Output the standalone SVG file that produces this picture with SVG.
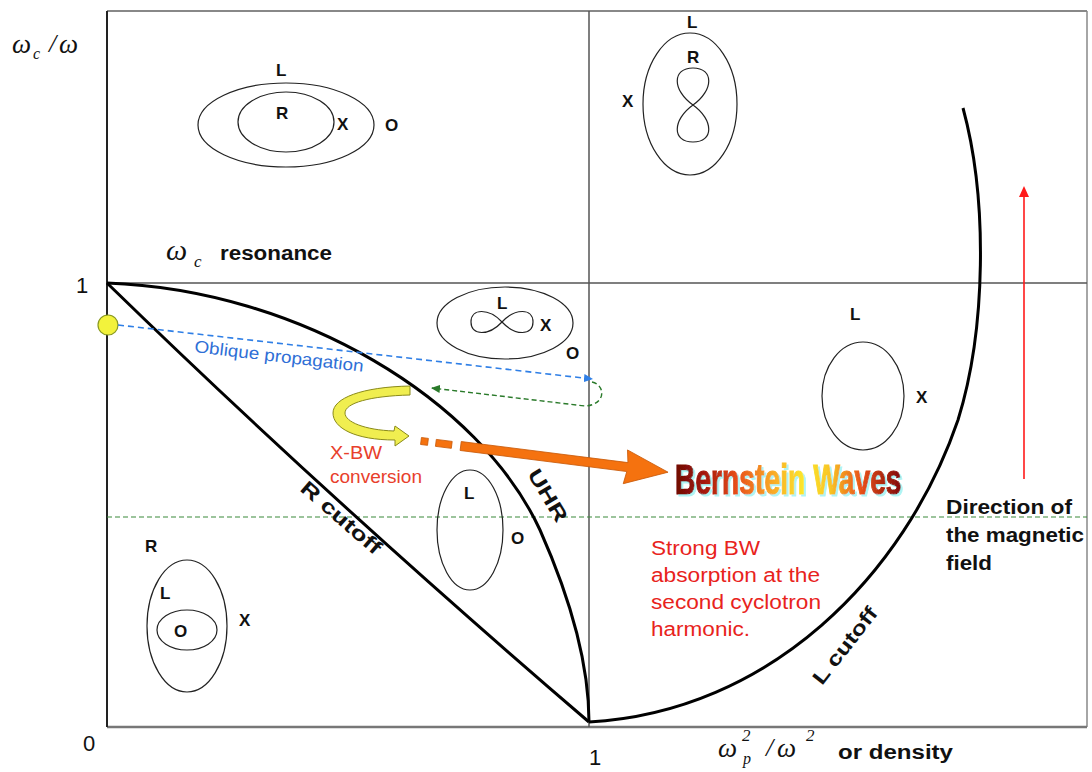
<svg xmlns="http://www.w3.org/2000/svg" width="1092" height="772" viewBox="0 0 1092 772">
<style>
.frame{fill:none;stroke:#555;stroke-width:1.5}
.axis{fill:none;stroke:#222;stroke-width:2}
.curve{fill:none;stroke:#000;stroke-width:3}
.pol{fill:none;stroke:#222;stroke-width:1.2}
.lbl{font-family:"Liberation Sans",Arial,sans-serif;font-weight:bold;font-size:17px;fill:#111}
.big{font-family:"Liberation Sans",Arial,sans-serif;font-weight:bold;font-size:20px;fill:#111}
.num{font-family:"Liberation Sans",Arial,sans-serif;font-size:22px;fill:#111}
.math{font-family:"Liberation Serif","Times New Roman",serif;font-style:italic;fill:#111}
.red{font-family:"Liberation Sans",Arial,sans-serif;font-size:20px;fill:#e8231c}
</style>
<defs>
<marker id="blueHead" markerWidth="10" markerHeight="10" refX="8" refY="5" orient="auto" markerUnits="userSpaceOnUse">
<path d="M0,1 L9,5 L0,9 Z" fill="#2f7fe6"/>
</marker>
<marker id="greenHead" markerWidth="10" markerHeight="10" refX="8" refY="5" orient="auto" markerUnits="userSpaceOnUse">
<path d="M0,1 L9,5 L0,9 Z" fill="#2a7a2a"/>
</marker>
<marker id="redHead" markerWidth="12" markerHeight="12" refX="6" refY="10" orient="0" markerUnits="userSpaceOnUse">
<path d="M1,11 L6,0 L11,11 Z" fill="#ff1a1a"/>
</marker>
<linearGradient id="bwGrad" x1="0" y1="0" x2="338" y2="0" gradientUnits="userSpaceOnUse">
<stop offset="0" stop-color="#6e0a04"/>
<stop offset="0.14" stop-color="#a81a0c"/>
<stop offset="0.28" stop-color="#e8501a"/>
<stop offset="0.42" stop-color="#f8a024"/>
<stop offset="0.58" stop-color="#fce82c"/>
<stop offset="0.7" stop-color="#f8c424"/>
<stop offset="0.84" stop-color="#e85018"/>
<stop offset="1" stop-color="#8a1008"/>
</linearGradient>
<filter id="glow" x="-5%" y="-20%" width="115%" height="150%">
<feOffset in="SourceAlpha" dx="2" dy="2" result="off"/>
<feFlood flood-color="#aef4f4"/>
<feComposite in2="off" operator="in" result="sh"/>
<feMerge><feMergeNode in="sh"/><feMergeNode in="SourceGraphic"/></feMerge>
</filter>
</defs>

<g id="frame">
<line x1="107" y1="11" x2="1087" y2="11" stroke="#888" stroke-width="2"/>
<line x1="1087" y1="11" x2="1087" y2="727" stroke="#888" stroke-width="1.5"/>
<line x1="107" y1="727" x2="1087" y2="727" stroke="#777" stroke-width="2.5"/>
<line x1="107" y1="11" x2="107" y2="727" class="axis"/>
<line x1="107" y1="283" x2="1087" y2="283" class="frame"/>
<line x1="589" y1="11" x2="589" y2="727" class="frame"/>
<line x1="107" y1="517" x2="1087" y2="517" stroke="#3a8a3a" stroke-width="1.2" stroke-dasharray="5,3"/>
</g>

<g id="axis-labels">
<text x="12" y="53" class="math" font-size="27">ω</text>
<text x="33" y="59" class="math" font-size="16">c</text>
<text x="49" y="52" class="math" font-size="26">/</text>
<text x="59" y="53" class="math" font-size="27">ω</text>
<text x="76" y="293" class="num">1</text>
<text x="83" y="751" class="num">0</text>
<text x="589" y="765" class="num">1</text>
<text x="718" y="757" class="math" font-size="27">ω</text>
<text x="743" y="764" class="math" font-size="16">p</text>
<text x="742" y="741" class="math" font-size="17">2</text>
<text x="766" y="756" class="math" font-size="26">/</text>
<text x="777" y="757" class="math" font-size="27">ω</text>
<text x="806" y="741" class="math" font-size="17">2</text>
<text x="838" y="759" class="big" textLength="115" lengthAdjust="spacingAndGlyphs">or density</text>
<text x="166" y="260" class="math" font-size="30">ω</text>
<text x="194" y="267" class="math" font-size="17">c</text>
<text x="220" y="260" class="big" textLength="112" lengthAdjust="spacingAndGlyphs">resonance</text>
</g>

<g id="curves">
<path id="r-cutoff" class="curve" d="M107,283 Q330,500 589,722"/>
<path id="uhr" class="curve" d="M107,283 C300,290 480,400 540,530 C580,620 589,680 589,722"/>
<path id="l-cutoff" class="curve" d="M589,722 C770,712 905,575 958,420 C986,330 988,200 963,108"/>
<text class="big" transform="translate(299,490) rotate(41)" font-size="21" textLength="100" lengthAdjust="spacingAndGlyphs">R cutoff</text>
<text class="big" transform="translate(527,474) rotate(59)" font-size="21" textLength="58" lengthAdjust="spacingAndGlyphs">UHR</text>
<text class="big" transform="translate(822,686) rotate(-52)" font-size="21" textLength="92" lengthAdjust="spacingAndGlyphs">L cutoff</text>
</g>

<g id="pol-top-left">
<ellipse cx="286" cy="125" rx="88" ry="42" class="pol"/>
<ellipse cx="286" cy="122" rx="48" ry="30" class="pol"/>
<text x="276" y="76" class="lbl">L</text>
<text x="276" y="119" class="lbl">R</text>
<text x="337" y="130" class="lbl">X</text>
<text x="385" y="131" class="lbl">O</text>
</g>

<g id="pol-top-right">
<ellipse cx="690" cy="104" rx="47" ry="71" class="pol"/>
<path class="pol" d="M693,105 C672,90 672,68 693,68 C714,68 714,90 693,105 C672,120 672,142 693,142 C714,142 714,120 693,105 Z"/>
<text x="687" y="28" class="lbl">L</text>
<text x="687" y="63" class="lbl">R</text>
<text x="622" y="107" class="lbl">X</text>
</g>

<g id="pol-middle">
<ellipse cx="505" cy="323" rx="68" ry="36" class="pol"/>
<path class="pol" d="M502,322 C515,308 533,308 533,322 C533,336 515,336 502,322 C489,308 471,308 471,322 C471,336 489,336 502,322 Z"/>
<text x="497" y="309" class="lbl">L</text>
<text x="540" y="331" class="lbl">X</text>
<text x="566" y="359" class="lbl">O</text>
</g>

<g id="pol-right">
<ellipse cx="863" cy="396" rx="41" ry="54" class="pol"/>
<text x="850" y="320" class="lbl">L</text>
<text x="916" y="403" class="lbl">X</text>
</g>

<g id="pol-bottom-middle">
<ellipse cx="470" cy="530" rx="33" ry="60" class="pol"/>
<text x="464" y="499" class="lbl">L</text>
<text x="511" y="544" class="lbl">O</text>
</g>

<g id="pol-bottom-left">
<ellipse cx="187" cy="626" rx="40" ry="66" class="pol"/>
<ellipse cx="187" cy="630" rx="30" ry="20" class="pol"/>
<text x="145" y="552" class="lbl">R</text>
<text x="160" y="599" class="lbl">L</text>
<text x="174" y="637" class="lbl">O</text>
<text x="239" y="626" class="lbl">X</text>
</g>

<g id="connectors">
<circle cx="108" cy="325" r="10" fill="#f2f23c" stroke="#8a9a20" stroke-width="1.2"/>
<line x1="118" y1="325" x2="592" y2="379" stroke="#2f7fe6" stroke-width="1.6" stroke-dasharray="6,4" marker-end="url(#blueHead)"/>
<path d="M592,382 C606,385 606,405 585,406 L432,388" fill="none" stroke="#2a7a2a" stroke-width="1.4" stroke-dasharray="5,3" marker-end="url(#greenHead)"/>
<path d="M410,386 L410,395 C370,396 345,403 345,413 C345,422 365,430 394,431 L395,426 L409,436 L395,446 L395,440 C355,440 333,428 333,413 C333,398 362,387 410,386 Z" fill="#f0ee50" stroke="#8a8a1a" stroke-width="1"/>
<g transform="translate(421,441) rotate(7.2)" fill="#f5720f" stroke="#c85a0a" stroke-width="0.8">
<rect x="0" y="-3.5" width="7" height="7"/>
<rect x="15" y="-3.5" width="16" height="7"/>
<path d="M40,-4.5 L208,-4.5 L206,-17 L249,0 L206,17 L208,4.5 L40,4.5 Z"/>
</g>
<line x1="1024" y1="479" x2="1024" y2="196" stroke="#ff1a1a" stroke-width="1.6" marker-end="url(#redHead)"/>
</g>

<g id="annotations">
<text transform="translate(194,352) rotate(6.7)" font-family="Liberation Sans,Arial,sans-serif" font-size="17" fill="#2f6fd6" textLength="170" lengthAdjust="spacingAndGlyphs">Oblique propagation</text>
<text x="330" y="459" font-family="Liberation Sans,Arial,sans-serif" font-size="18" fill="#e8402c" textLength="52" lengthAdjust="spacingAndGlyphs">X-BW</text>
<text x="330" y="483" font-family="Liberation Sans,Arial,sans-serif" font-size="18" fill="#e8402c" textLength="92" lengthAdjust="spacingAndGlyphs">conversion</text>
<g filter="url(#glow)">
<text transform="translate(675,494) scale(0.657,1)" font-family="Liberation Sans,Arial,sans-serif" font-weight="bold" font-size="43" fill="url(#bwGrad)" stroke="url(#bwGrad)" stroke-width="1.2">Bernstein Waves</text>
</g>
<text class="red" x="651" y="555" textLength="109" lengthAdjust="spacingAndGlyphs">Strong BW</text>
<text class="red" x="651" y="582" textLength="169" lengthAdjust="spacingAndGlyphs">absorption at the</text>
<text class="red" x="651" y="609" textLength="170" lengthAdjust="spacingAndGlyphs">second cyclotron</text>
<text class="red" x="651" y="636" textLength="99" lengthAdjust="spacingAndGlyphs">harmonic.</text>
<text class="big" x="946" y="514" textLength="126" lengthAdjust="spacingAndGlyphs">Direction of</text>
<text class="big" x="946" y="542" textLength="138" lengthAdjust="spacingAndGlyphs">the magnetic</text>
<text class="big" x="946" y="570" textLength="46" lengthAdjust="spacingAndGlyphs">field</text>
</g>
</svg>
